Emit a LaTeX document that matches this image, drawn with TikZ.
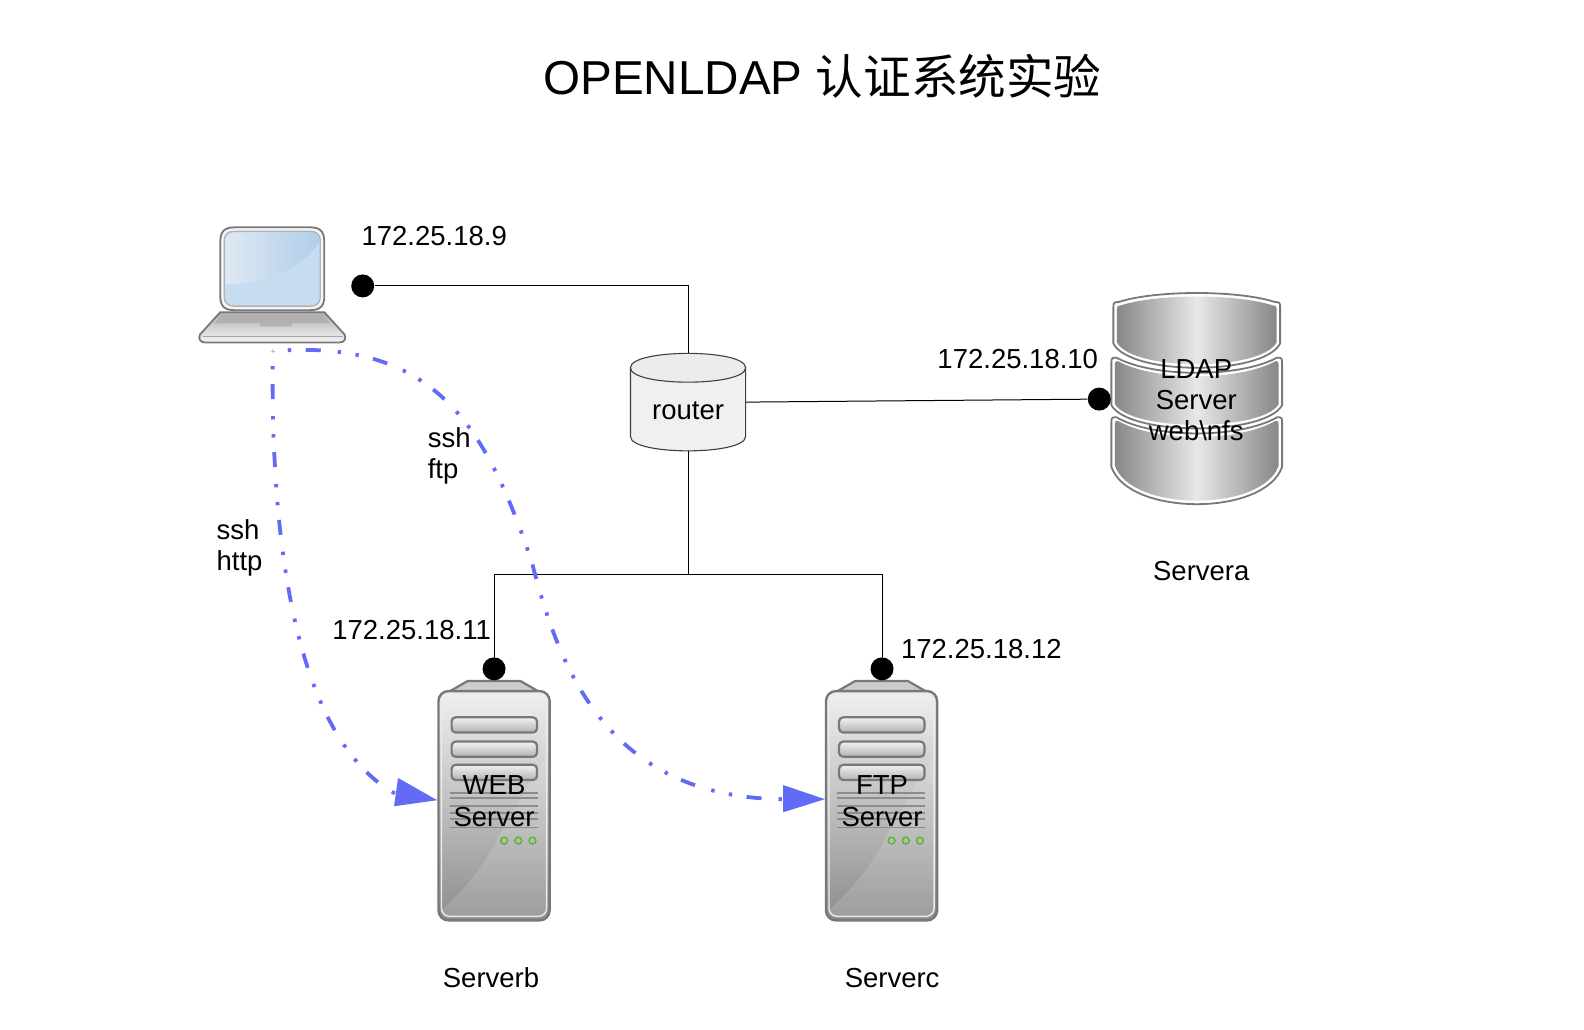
\documentclass[tikz,border=0pt]{standalone}
\usepackage{fontspec}
\setmainfont{Liberation Sans}
\newfontfamily\cjk{Noto Sans CJK SC}
\definecolor{flow}{RGB}{98,107,245}
\definecolor{edgegray}{RGB}{120,120,120}
\definecolor{slabdark}{RGB}{135,135,135}
\definecolor{slablight}{RGB}{232,232,232}
\definecolor{screenlow}{RGB}{200,220,241}
\definecolor{screenhi}{RGB}{222,232,244}
\definecolor{screenhr}{RGB}{176,206,232}
\definecolor{ledfill}{RGB}{170,205,140}
\definecolor{ledline}{RGB}{95,170,80}
\tikzset{
  wire/.style={draw=black,line width=0.5pt},
  dot/.style={circle,fill=black,draw=none,minimum size=11.5pt,inner sep=0pt},
  lbl/.style={font=\fontsize{13.75}{15.6}\selectfont,align=left,inner sep=0pt,text=black},
  lblc/.style={lbl,align=center},
  flowline/.style={draw=flow,line width=1.9pt,dash pattern=on 7.5pt off 8.5pt on 1.7pt off 7.3pt on 1.7pt off 7.3pt,dash phase=17.5pt},
  flowhead/.style={fill=flow,draw=none},
  routerart/.style={draw=black!75,line width=0.55pt},
  slabrim/.style={draw=edgegray,line width=0.9pt,line join=round,fill=white},
  slabface/.style={left color=slabdark,right color=slabdark,middle color=slablight},
}
% Server tower art; origin = top-centre of chamfer
\newcommand{\towerart}{%
  \draw[draw=edgegray,line width=1.1pt,line join=round,fill=gray!40] (-54,16) -- (-26,0) -- (26,0) -- (54,16) -- cycle;
  \draw[draw=edgegray,line width=1.2pt,rounded corners=5pt,top color=white!88!gray,bottom color=gray!90,middle color=gray!50] (-55,237) -- (-55,10) -- (55,10) -- (55,237) -- cycle;
  \draw[draw=white!85!gray,line width=0.7pt,rounded corners=4pt] (-52,233) -- (-52,13) -- (52,13) -- (52,233) -- cycle;
  \fill[white,opacity=.14] (-51,226) .. controls (-28,205) and (-8,180) .. (3,157) .. controls (20,125) and (40,95) .. (51,75) -- (51,228) .. controls (51,231) and (50,232) .. (48,232) -- (-46,232) .. controls (-49,232) and (-51,230) .. (-51,226) -- cycle;
  \foreach \yy in {36,60,83}{
    \draw[draw=edgegray,line width=1.1pt,rounded corners=2pt,top color=white!90!gray,bottom color=gray!60] (-42,\yy) rectangle (42.5,\yy+15);
  }
  \foreach \yy in {111,116,124,131,137,145}{
    \draw[draw=gray!90,line width=0.9pt] (-44,\yy) -- (43,\yy);
  }
  \foreach \xx in {10,24,38}{
    \draw[draw=ledline,fill=ledfill,line width=0.7pt] (\xx,158) circle (3.4);
  }
}
% database slab outline: xl xr ytopcorner ytopmid ybotcorner ybotmid cornersize style
\newcommand{\dbshape}[8]{%
  \pgfmathsetmacro{\xa}{#1+0.25*(#2-#1)}%
  \pgfmathsetmacro{\xb}{#2-0.25*(#2-#1)}%
  \pgfmathsetmacro{\xc}{#1+0.10*(#2-#1)}%
  \pgfmathsetmacro{\xd}{#2-0.10*(#2-#1)}%
  \pgfmathsetmacro{\yt}{(#4-0.25*#3)/0.75}%
  \pgfmathsetmacro{\yb}{(#6-0.25*#5)/0.75}%
  \pgfmathsetmacro{\ycs}{#3+#7}%
  \pgfmathsetmacro{\xls}{#1+#7}%
  \pgfmathsetmacro{\xrs}{#2-#7}%
  \path[#8] (#1,\ycs) .. controls (#1,#3) and (#1+1,#3) .. (\xls,#3) .. controls (\xa,\yt) and (\xb,\yt) .. (\xrs,#3) .. controls (#2-1,#3) and (#2,#3) .. (#2,\ycs) -- (#2,#5) .. controls (\xd,\yb) and (\xc,\yb) .. (#1,#5) -- cycle;
}
\newcommand{\dbslab}[6]{%
  \dbshape{#1}{#2}{#3}{#4}{#5}{#6}{5}{slabrim}%
  \pgfmathsetmacro{\ia}{#1+3.5}\pgfmathsetmacro{\ib}{#2-3.5}%
  \pgfmathsetmacro{\ic}{#3+3.5}\pgfmathsetmacro{\id}{#4+3.5}%
  \pgfmathsetmacro{\ie}{#5-1}\pgfmathsetmacro{\ig}{#6-3.5}%
  \dbshape{\ia}{\ib}{\ic}{\id}{\ie}{\ig}{3}{slabface}%
}
\begin{document}
\begin{tikzpicture}[x=0.5052pt,y=-0.5052pt]
\useasboundingbox (0,0) rectangle (1567.8,1019.4);
\fill[white] (0,0) rectangle (1567.8,1019.4);

% title
\node[font=\fontsize{23.8}{28}\selectfont,inner sep=0pt] (title) at (814,75) {OPENLDAP {\cjk 认证系统实验}};

% laptop
\draw[draw=edgegray,line width=0.9pt,fill=white!92!gray] (218,240) .. controls (218,229) and (222,225) .. (232,225) -- (307,225) .. controls (317,225) and (321,229) .. (321,240) -- (321,293) .. controls (321,303) and (317,307) .. (307,307) -- (232,307) .. controls (222,307) and (218,303) .. (218,293) -- cycle;
\draw[draw=gray!60,line width=0.7pt,fill=screenlow] (222,238) .. controls (222,232) and (226,229) .. (232,229) -- (307,229) .. controls (313,229) and (317,232) .. (317,238) -- (317,294) .. controls (317,300) and (313,303) .. (307,303) -- (232,303) .. controls (226,303) and (222,300) .. (222,294) -- cycle;
\path[left color=screenhi,right color=screenhr] (223,238) .. controls (223,233) and (227,230) .. (232,230) -- (307,230) .. controls (312,230) and (316,233) .. (316,240) .. controls (300,262) and (270,282) .. (223,281) -- cycle;
\draw[draw=edgegray,line width=0.9pt,top color=gray!62,bottom color=gray!8] (218,309) -- (321,309) -- (341,331) .. controls (343,335) and (341,339) .. (336,339) -- (203,339) .. controls (198,339) and (196,335) .. (198,331) -- cycle;
\fill[gray!62] (220,312) -- (319,312) -- (327,320) -- (212,320) -- cycle;
\fill[gray!60] (259,318) -- (287,318) -- (289,323) -- (257,323) -- cycle;
\draw[draw=gray!70,line width=0.6pt] (201,333) -- (339,333);
\coordinate (laptopbase) at (270,347.5);
\node[lbl,anchor=west] (iplap) at (357.5,234) {172.25.18.9};
\node[dot] (dlap) at (359,283) {};

% router
\node[draw=none,inner sep=0pt,minimum width=57.6pt,minimum height=48.5pt] (router) at (681,398) {};
\draw[routerart,fill=gray!12] (624,364) -- (624,432) .. controls (624,451) and (738,451) .. (738,432) -- (738,364) -- cycle;
\draw[routerart,fill=gray!15] (624,364) .. controls (624,345) and (738,345) .. (738,364) .. controls (738,383) and (624,383) .. (624,364) -- cycle;
\node[lblc] (routerlabel) at (681,407) {router};

% database
\dbslab{1100}{1269}{413}{429}{462}{499}
\dbslab{1100}{1269}{354}{369}{401}{424}
\dbslab{1102}{1267}{299}{290}{340}{364}
\node[lblc] (dblabel) at (1184,396) {LDAP\\Server\\web\textbackslash nfs};
\node[lbl,anchor=west] (ipdb) at (927.5,355) {172.25.18.10};
\node[dot] (ddb) at (1088,395) {};
\node[lbl] (servera) at (1189,565) {Servera};

% servers
\begin{scope}[shift={(489,674)}]\towerart\end{scope}
\begin{scope}[shift={(872.5,674)}]\towerart\end{scope}
\node[lblc] (webl) at (489,793) {WEB\\Server};
\node[lblc] (ftpl) at (873,793) {FTP\\Server};
\node[dot] (dweb) at (489,662) {};
\node[dot] (dftp) at (873,662) {};
\node[lbl,anchor=west] (ipweb) at (328.5,623.5) {172.25.18.11};
\node[lbl,anchor=west] (ipftp) at (891.5,642) {172.25.18.12};
\node[lbl] (serverb) at (486,968) {Serverb};
\node[lbl] (serverc) at (883,968) {Serverc};
\node[lbl,anchor=west] (sshftp) at (423,451) {ssh\\ftp};
\node[lbl,anchor=west] (sshhttp) at (214,542) {ssh\\http};

% connectors
\coordinate (junction) at (681,569);
\draw[wire] (dlap) -| (router.north);
\draw[wire] (router.east) -- (ddb);
\draw[wire] (router.south) -- (junction);
\draw[wire] (dweb) |- (junction);
\draw[wire] (dftp) |- (junction);

% flows
\coordinate (webin) at (432.7,792);
\coordinate (ftpin) at (816.5,791);
\draw[flowline] (laptopbase) .. controls (268,490) and (280,725) .. (392,786);
\draw[flowline] (laptopbase) .. controls (430,335) and (480,420) .. (526,555) .. controls (553,660) and (600,790) .. (776,791);
\fill[flowhead] (webin) -- (394,770) -- (390,798) -- cycle;
\fill[flowhead] (ftpin) -- (775,777) -- (775,804) -- cycle;
\end{tikzpicture}
\end{document}
